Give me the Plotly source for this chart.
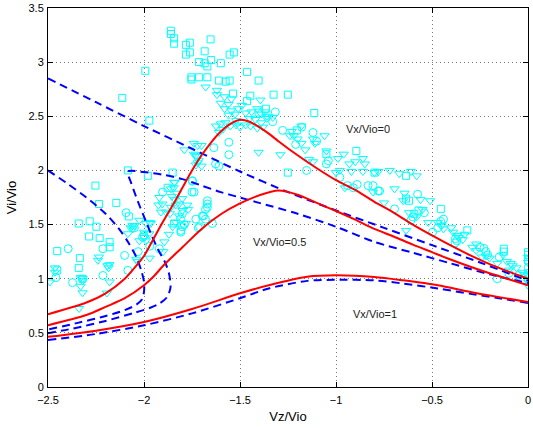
import plotly.graph_objects as go

# ---------------- curves ----------------
# red solid (exact) curves
red0_x = [-2.5, -2.3, -2.2, -2.1, -2.05, -2.0, -1.95, -1.9, -1.85, -1.8, -1.75, -1.7, -1.65, -1.6, -1.55,
          -1.5, -1.45, -1.4, -1.35, -1.3, -1.2, -1.1, -1.0, -0.9, -0.8, -0.7, -0.6, -0.5, -0.4, -0.3, -0.2, -0.1, 0.0]
red0_y = [0.672, 0.78, 0.865, 1.0, 1.10, 1.21, 1.37, 1.53, 1.68, 1.84, 2.0, 2.14, 2.26, 2.36, 2.43,
          2.468, 2.45, 2.40, 2.34, 2.27, 2.14, 2.02, 1.91, 1.82, 1.71, 1.61, 1.50, 1.40, 1.305, 1.215, 1.135, 1.065, 1.0]

red05_x = [-2.5, -2.3, -2.2, -2.1, -2.0, -1.95, -1.9, -1.8, -1.7, -1.6, -1.5, -1.4, -1.3, -1.2, -1.1, -1.0,
           -0.9, -0.8, -0.7, -0.6, -0.5, -0.4, -0.3, -0.2, -0.1, 0.0]
red05_y = [0.571, 0.665, 0.74, 0.82, 0.94, 1.02, 1.12, 1.29, 1.46, 1.595, 1.695, 1.77, 1.814, 1.775, 1.70, 1.625,
           1.545, 1.46, 1.39, 1.315, 1.245, 1.175, 1.11, 1.05, 0.995, 0.94]

red1_x = [-2.5, -2.25, -2.0, -1.75, -1.5, -1.35, -1.15, -1.0, -0.8, -0.65, -0.47, -0.3, -0.15, 0.0]
red1_y = [0.463, 0.52, 0.60, 0.72, 0.865, 0.94, 1.018, 1.031, 1.016, 0.985, 0.94, 0.878, 0.83, 0.785]

# blue dashed (approximate) curves
blue0_up_x = [-2.5, -2.25, -2.0, -1.75, -1.5, -1.25, -1.0, -0.75, -0.5, -0.25, 0.0]
blue0_up_y = [2.85, 2.63, 2.41, 2.20, 1.99, 1.80, 1.63, 1.47, 1.31, 1.15, 0.98]

blue0_lo_x = [-2.5, -2.4, -2.3, -2.2, -2.13, -2.08, -2.04, -2.015, -2.0, -2.0, -2.01, -2.04, -2.1, -2.2, -2.35, -2.5]
blue0_lo_y = [2.0, 1.88, 1.75, 1.60, 1.46, 1.33, 1.20, 1.08, 0.97, 0.88, 0.81, 0.76, 0.71, 0.655, 0.59, 0.53]

blue05_x = [-2.5, -2.37, -2.2, -2.05, -1.97, -1.92, -1.88, -1.862, -1.87, -1.89, -1.93, -1.96, -1.99, -2.02,
            -2.05, -2.068, -2.084, -2.0, -1.9, -1.8, -1.7, -1.6, -1.5, -1.4, -1.2, -1.0, -0.8, -0.6, -0.4, -0.2, 0.0]
blue05_y = [0.497, 0.54, 0.61, 0.685, 0.73, 0.77, 0.83, 0.92, 1.05, 1.15, 1.28, 1.40, 1.53, 1.66,
            1.80, 1.89, 1.99, 1.985, 1.96, 1.92, 1.86, 1.80, 1.75, 1.70, 1.60, 1.48, 1.34, 1.24, 1.14, 1.04, 0.96]

blue1_x = [-2.5, -2.25, -2.0, -1.75, -1.5, -1.35, -1.15, -1.0, -0.8, -0.65, -0.47, -0.3, -0.15, 0.0]
blue1_y = [0.433, 0.49, 0.57, 0.68, 0.82, 0.91, 0.98, 0.99, 0.985, 0.955, 0.91, 0.86, 0.82, 0.776]

# ---------------- measured points ----------------
sq_pts = [(-1.86, 3.29), (-1.86, 3.26), (-1.843, 3.22), (-1.843, 3.17), (-1.782, 3.16), (-1.761, 3.18),
          (-1.782, 3.07), (-1.761, 3.09), (-1.653, 3.21), (-1.684, 3.10), (-1.713, 3.00), (-1.684, 2.99),
          (-1.65, 3.02), (-1.67, 2.96), (-1.60, 2.99), (-1.554, 3.07), (-1.532, 3.09), (-1.753, 2.86),
          (-1.753, 2.84), (-1.713, 2.86), (-1.67, 2.86), (-1.61, 2.83), (-1.575, 2.82), (-1.554, 2.83),
          (-1.463, 2.91), (-1.403, 2.83), (-1.446, 2.69), (-1.463, 2.64), (-1.536, 2.71), (-2.113, 2.67),
          (-1.993, 2.92), (-1.972, 2.46), (-2.084, 2.00), (-1.98, 1.95), (-1.851, 1.98), (-2.253, 1.86),
          (-1.325, 2.70), (-1.251, 2.70), (-1.365, 2.57), (-1.113, 2.53), (-0.894, 2.18), (-1.05, 2.15),
          (-1.251, 1.98), (-0.635, 1.95), (-0.799, 1.98), (-1.204, 2.37), (-1.403, 2.535),
          (-2.234, 1.69), (-2.144, 1.70), (-2.34, 1.51), (-2.283, 1.53), (-2.248, 1.48), (-2.286, 1.39),
          (-2.231, 1.375), (-2.179, 1.34), (-2.179, 1.29), (-2.452, 1.255), (-2.334, 1.19), (-2.34, 1.10),
          (-2.452, 1.077), (-2.079, 1.575), (-2.32, 1.0), (-1.843, 1.51), (-1.877, 1.84),
          (-0.454, 1.645), (-0.635, 1.74), (-0.316, 1.446), (-0.126, 1.277), (-0.126, 1.25), (0.0, 1.245),
          (0.0, 1.17), (-0.592, 1.60), (-0.62, 1.72), (-0.57, 1.63), (0.0, 1.22)]
sq_x = [p[0] for p in sq_pts]
sq_y = [p[1] for p in sq_pts]

ci_pts = [(-2.395, 1.277), (-2.459, 1.01), (-2.372, 0.964), (-2.093, 1.61), (-2.101, 1.215), (-2.084, 1.077),
          (-2.214, 1.03), (-2.214, 1.277), (-1.903, 1.80), (-1.739, 1.80), (-2.007, 1.384), (-1.92, 1.277),
          (-1.808, 1.43), (-1.80, 1.48), (-1.81, 1.55), (-1.80, 1.60), (-1.71, 1.48), (-1.69, 1.58),
          (-1.67, 1.66), (-1.67, 1.72), (-1.68, 1.55), (-1.644, 1.51), (-2.05, 1.47), (-2.0, 1.40),
          (-1.97, 1.30), (-2.03, 1.25), (-1.748, 1.90), (-1.75, 1.80), (-1.67, 1.69), (-1.68, 1.64),
          (-1.696, 1.58), (-1.73, 1.55), (-1.717, 1.47), (-1.79, 1.50), (-1.808, 1.445),
          (-1.636, 2.21), (-1.558, 2.26), (-1.558, 2.145), (-1.627, 2.06), (-1.61, 2.04), (-1.748, 1.906),
          (-1.179, 2.40), (-1.316, 2.54), (-1.278, 2.37), (-1.101, 2.27), (-1.05, 2.06), (-1.04, 2.09),
          (-1.153, 2.0), (-0.98, 1.936), (-0.807, 1.86), (-0.773, 1.81), (-0.575, 1.78), (-0.94, 1.86),
          (-0.91, 1.84), (-0.89, 1.87), (-1.33, 2.45), (-1.21, 2.24), (-1.12, 2.35),
          (-0.833, 1.86), (-0.78, 1.81), (-0.695, 1.645), (-0.54, 1.61), (-0.60, 1.57), (-0.61, 1.54),
          (-0.497, 1.43), (-0.455, 1.53), (-0.44, 1.55), (-0.378, 1.37), (-0.37, 1.35), (-0.38, 1.33),
          (-0.23, 1.28), (-0.22, 1.25), (-0.21, 1.22), (-0.15, 1.20), (-0.16, 1.0), (-0.10, 1.05),
          (-0.05, 1.03), (0.0, 1.1), (0.0, 1.05), (0.0, 1.0), (-0.25, 1.29), (-0.47, 1.47)]
ci_x = [p[0] for p in ci_pts]
ci_y = [p[1] for p in ci_pts]

tr_pts = [(-1.679, 2.77), (-1.62, 2.70), (-1.58, 2.68), (-1.545, 2.66), (-1.56, 2.61), (-1.58, 2.57),
          (-1.545, 2.55), (-1.51, 2.57), (-1.49, 2.60), (-1.525, 2.52), (-1.56, 2.51), (-1.47, 2.53),
          (-1.44, 2.54), (-1.41, 2.57), (-1.37, 2.54), (-1.36, 2.48), (-1.42, 2.47), (-1.39, 2.44),
          (-1.445, 2.41), (-1.41, 2.39), (-1.38, 2.40), (-1.47, 2.42), (-1.50, 2.40), (-1.52, 2.42),
          (-1.55, 2.41), (-1.59, 2.38), (-1.61, 2.35), (-1.625, 2.41), (-1.60, 2.43), (-1.575, 2.44),
          (-1.394, 2.65), (-1.39, 2.52), (-1.36, 2.50), (-1.33, 2.49), (-1.62, 2.74), (-1.60, 2.62),
          (-1.45, 2.48), (-1.52, 2.46),
          (-1.79, 2.19), (-1.74, 2.25), (-1.72, 2.23), (-1.70, 2.23), (-1.725, 2.13), (-1.72, 2.07),
          (-1.73, 2.05), (-1.74, 2.15), (-1.403, 2.167), (-1.84, 1.89), (-1.845, 1.84), (-1.83, 1.79),
          (-1.29, 2.145), (-1.18, 2.41), (-1.23, 2.36), (-1.22, 2.32), (-1.24, 2.32), (-1.20, 2.29),
          (-1.18, 2.25), (-1.16, 2.19), (-1.12, 2.29), (-1.11, 2.25), (-1.06, 2.32), (-1.05, 2.18),
          (-1.14, 2.10), (-1.12, 2.08), (-0.96, 2.15), (-0.99, 2.11), (-0.93, 2.06), (-0.90, 2.08),
          (-0.86, 2.11), (-0.85, 2.06), (-0.98, 2.00), (-1.00, 1.98), (-0.92, 1.99), (-0.86, 1.99),
          (-0.80, 1.98), (-0.78, 1.99), (-0.72, 2.00), (-0.67, 1.97), (-0.61, 1.99), (-0.58, 1.95),
          (-0.695, 1.83), (-0.643, 1.79), (-0.807, 1.80), (-0.954, 1.84),
          (-0.75, 1.70), (-0.65, 1.72), (-0.56, 1.73), (-0.51, 1.72), (-0.635, 1.446), (-0.39, 1.43),
          (-0.37, 1.40), (-0.36, 1.38), (-0.27, 1.32), (-0.29, 1.29), (-0.27, 1.26), (-0.22, 1.21),
          (-0.20, 1.19), (-0.24, 1.20), (-0.16, 1.14), (-0.11, 1.16), (-0.09, 1.14), (-0.08, 1.12),
          (-0.06, 1.10), (-0.03, 1.06), (-0.02, 1.04), (0.0, 1.03), (0.0, 0.97), (0.0, 0.94), (0.0, 1.15),
          (0.0, 1.2), (-0.55, 1.64), (-0.62, 1.61), (-0.52, 1.52), (-0.58, 1.57), (-0.45, 1.49),
          (-0.40, 1.47), (-0.13, 1.22), (-0.10, 1.08), (-0.47, 1.52), (-0.44, 1.46), (-0.34, 1.36),
          (-0.33, 1.41),
          (-2.49, 0.97), (-2.464, 1.10), (-2.464, 1.06), (-2.33, 1.01), (-2.32, 0.98), (-2.32, 1.0),
          (-2.33, 0.93), (-2.32, 0.87), (-2.338, 0.725), (-2.235, 1.20), (-2.24, 1.17), (-2.19, 1.12),
          (-2.18, 1.13), (-2.185, 1.10), (-2.179, 0.97), (-2.193, 0.868), (-2.07, 1.47), (-2.06, 1.49),
          (-2.05, 1.49), (-2.04, 1.18), (-2.035, 1.16), (-2.0, 1.43), (-1.99, 1.35), (-1.97, 1.52),
          (-1.965, 1.51), (-1.97, 1.19), (-1.92, 1.75), (-1.925, 1.68), (-1.905, 1.69), (-1.86, 1.83),
          (-1.855, 1.76), (-1.84, 1.73), (-1.835, 1.68), (-1.865, 1.60), (-1.87, 1.41), (-1.9, 1.25),
          (-1.775, 1.68), (-1.77, 1.64), (-2.058, 1.46), (-2.084, 1.415), (-2.024, 1.54), (-1.99, 1.51),
          (-1.972, 1.415), (-1.998, 1.38), (-2.024, 1.35), (-1.912, 1.615), (-1.886, 1.615), (-1.86, 1.66),
          (-1.843, 1.89), (-1.8, 1.74), (-1.817, 1.69), (-1.80, 1.63), (-1.817, 1.58), (-1.782, 1.51),
          (-1.834, 1.52), (-1.851, 1.48), (-1.73, 2.14), (-1.715, 2.09), (-1.70, 2.04), (-1.894, 1.34)]
tr_x = [p[0] for p in tr_pts]
tr_y = [p[1] for p in tr_pts]

# ---------------- labels ----------------
label_text = ["Vx/Vio=0", "Vx/Vio=0.5", "Vx/Vio=1"]
label_x = [-0.833, -1.294, -0.799]
label_y = [2.385, 1.338, 0.678]

x_ticks = [-2.5, -2, -1.5, -1, -0.5, 0]
y_ticks = [0, 0.5, 1, 1.5, 2, 2.5, 3, 3.5]

CYAN = "rgb(0,255,255)"
BLUE = "rgb(0,0,255)"
RED = "rgb(255,0,0)"
FONT = "Liberation Sans, Arial, sans-serif"

fig = go.Figure()
fig.add_trace(go.Scatter(x=sq_x, y=sq_y, mode="markers",
                         marker=dict(symbol="square-open", size=7, color=CYAN, line=dict(width=1))))
fig.add_trace(go.Scatter(x=ci_x, y=ci_y, mode="markers",
                         marker=dict(symbol="circle-open", size=8, color=CYAN, line=dict(width=1))))
fig.add_trace(go.Scatter(x=tr_x, y=tr_y, mode="markers",
                         marker=dict(symbol="triangle-down-open", size=8, color=CYAN, line=dict(width=1))))

dash_line = dict(color=BLUE, width=2, dash="8px,5px")
for bx, by in [(blue0_up_x, blue0_up_y), (blue0_lo_x, blue0_lo_y), (blue05_x, blue05_y), (blue1_x, blue1_y)]:
    fig.add_trace(go.Scatter(x=bx, y=by, mode="lines", line=dict(shape="spline", smoothing=0.8, **dash_line)))
for rx, ry in [(red0_x, red0_y), (red05_x, red05_y), (red1_x, red1_y)]:
    fig.add_trace(go.Scatter(x=rx, y=ry, mode="lines",
                             line=dict(color=RED, width=2, shape="spline", smoothing=0.8)))

for t, lx, ly in zip(label_text, label_x, label_y):
    fig.add_annotation(x=lx, y=ly, text=t, showarrow=False,
                       font=dict(size=11, color="#222222", family=FONT))

axis_common = dict(showline=True, linecolor="black", linewidth=1, mirror="ticks", ticks="inside",
                   ticklen=5, tickcolor="black", showgrid=True, gridcolor="rgb(120,120,120)",
                   griddash="1px,3px", gridwidth=1, zeroline=False, ticklabeloverflow="allow",
                   tickfont=dict(size=11, color="black", family=FONT))

fig.update_layout(
    width=533, height=428,
    margin=dict(l=48, r=2, t=7, b=41),
    paper_bgcolor="white", plot_bgcolor="white",
    showlegend=False,
    xaxis=dict(range=[-2.5, 0], tickvals=x_ticks,
               ticktext=["\u22122.5", "\u22122", "\u22121.5", "\u22121", "\u22120.5", "0"],
               ticklabelstandoff=3,
               title=dict(text="Vz/Vio", standoff=6, font=dict(size=13, color="black", family=FONT)),
               **axis_common),
    yaxis=dict(range=[0, 3.5], tickvals=y_ticks, ticktext=["0", "0.5", "1", "1.5", "2", "2.5", "3", "3.5"],
               ticklabelstandoff=1,
               title=dict(text="Vi/Vio", standoff=8, font=dict(size=13, color="black", family=FONT)),
               **axis_common),
)

fig.write_html("out.html")
